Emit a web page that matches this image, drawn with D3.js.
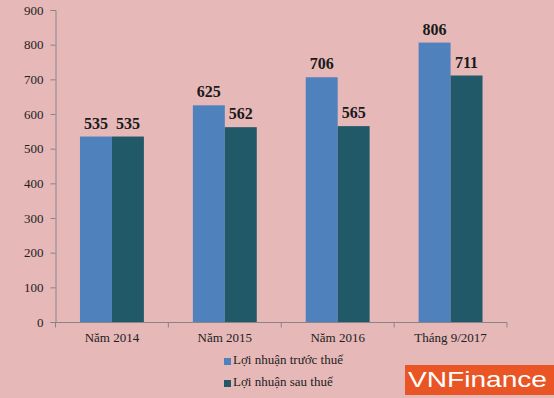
<!DOCTYPE html>
<html><head><meta charset="utf-8">
<script src="https://cdn.jsdelivr.net/npm/d3@7"></script>
<style>html,body{margin:0;padding:0;background:#E6B8B7;}svg{display:block;}</style>
</head><body>
<script>
const categories = ["Năm 2014", "Năm 2015", "Năm 2016", "Tháng 9/2017"];
const seriesNames = ["Lợi nhuận trước thuế", "Lợi nhuận sau thuế"];
const beforeTax = [535, 625, 706, 806];
const afterTax = [535, 562, 565, 711];
const yTicks = [0, 100, 200, 300, 400, 500, 600, 700, 800, 900];
const colors = ["#4F81BD", "#215968"];

const W = 554, H = 398;
const svg = d3.select("body").append("svg").attr("width", W).attr("height", H);
svg.append("rect").attr("width", W).attr("height", H).attr("fill", "#E6B8B7");

const y = d3.scaleLinear().domain([0, 900]).range([322, 10]);
const x = d3.scaleBand().domain(categories).range([55.5, 507]).paddingInner(0.434).paddingOuter(0.217);
const xs = d3.scaleBand().domain([0, 1]).range([0, x.bandwidth()]);
const serif = "'Liberation Serif','Times New Roman',serif";

// y axis
const ya = svg.append("g").attr("transform", "translate(55.5,0)")
  .call(d3.axisLeft(y).tickValues(yTicks).tickSize(5).tickPadding(7).tickFormat(d3.format("d")))
  .attr("font-family", serif);
ya.select(".domain").attr("stroke", "#868686");
ya.selectAll(".tick line").attr("stroke", "#868686");
ya.selectAll(".tick text").attr("fill", "#222").attr("font-family", serif).attr("font-size", 13);

// bars
const series = [beforeTax, afterTax];
series.forEach((vals, si) => {
  svg.append("g").selectAll("rect").data(vals).join("rect")
    .attr("x", (d, i) => x(categories[i]) + xs(si))
    .attr("width", xs.bandwidth())
    .attr("y", d => y(d))
    .attr("height", d => y(0) - y(d))
    .attr("fill", colors[si]);
  svg.append("g").selectAll("text").data(vals).join("text")
    .attr("x", (d, i) => x(categories[i]) + xs(si) + xs.bandwidth() / 2)
    .attr("y", d => y(d) - 8)
    .attr("text-anchor", "middle")
    .attr("font-family", serif).attr("font-weight", "bold").attr("font-size", 16)
    .attr("fill", "#1a1a1a")
    .text(d => d);
});

// x axis
const step = x.step();
const xa = svg.append("g").attr("transform", "translate(0,322.5)");
xa.append("line").attr("x1", 55.5).attr("x2", 507).attr("stroke", "#868686");
const bounds = [55.5].concat(categories.map(c => x(c) + x.bandwidth() / 2 + step / 2));
xa.selectAll("line.t").data(bounds).join("line").attr("class", "t")
  .attr("x1", d => d).attr("x2", d => d).attr("y1", 0).attr("y2", 5).attr("stroke", "#868686");
xa.selectAll("text").data(categories).join("text")
  .attr("x", d => x(d) + x.bandwidth() / 2).attr("y", 19)
  .attr("text-anchor", "middle").attr("font-family", serif).attr("font-size", 13).attr("fill", "#222")
  .text(d => d);

// legend
const lg = svg.append("g").attr("transform", "translate(224,355)");
seriesNames.forEach((n, i) => {
  lg.append("rect").attr("x", 0).attr("y", i * 22 + 3).attr("width", 7).attr("height", 7).attr("fill", colors[i]);
  lg.append("text").attr("x", 9).attr("y", i * 22 + 8.5).attr("font-family", serif).attr("font-size", 13)
    .attr("fill", "#222").text(n);
});

// logo
svg.append("rect").attr("x", 405).attr("y", 365).attr("width", 149).attr("height", 30).attr("fill", "#EA5525");
svg.append("text").attr("x", 408).attr("y", 387).attr("font-family", "'Liberation Sans',Arial,sans-serif")
  .attr("font-size", 22).attr("fill", "#fff").attr("textLength", 139).attr("lengthAdjust", "spacingAndGlyphs")
  .text("VNFinance");
</script>
</body></html>
